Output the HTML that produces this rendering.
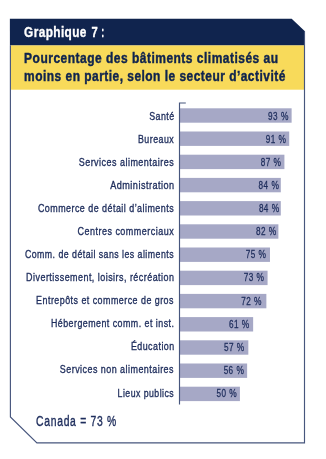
<!DOCTYPE html>
<html><head><meta charset="utf-8"><style>
html,body{margin:0;padding:0;background:#fff;width:326px;height:459px;overflow:hidden}
svg{display:block;font-family:"Liberation Sans",sans-serif;will-change:transform}
</style></head><body>
<svg width="326" height="459" viewBox="0 0 326 459">
<polygon points="9.9,18.7 291.7,18.7 304.9,31.3 304.9,45.4 9.9,45.4" fill="#10244e"/>
<rect x="11.0" y="45.4" width="293.0" height="44.300000000000004" fill="#f8da5a"/>
<polyline points="10.4,45.4 10.4,417.0 36.9,442.8 304.5,442.8 304.5,31.3" fill="none" stroke="#47567d" stroke-width="1.15" stroke-linejoin="miter"/>
<rect x="180" y="108.30" width="111.62" height="14.4" fill="#a6a8c6"/>
<rect x="180" y="131.50" width="109.22" height="14.4" fill="#a6a8c6"/>
<rect x="180" y="154.70" width="104.41" height="14.4" fill="#a6a8c6"/>
<rect x="180" y="177.90" width="100.80" height="14.4" fill="#a6a8c6"/>
<rect x="180" y="201.10" width="100.80" height="14.4" fill="#a6a8c6"/>
<rect x="180" y="224.30" width="98.39" height="14.4" fill="#a6a8c6"/>
<rect x="180" y="247.50" width="89.98" height="14.4" fill="#a6a8c6"/>
<rect x="180" y="270.70" width="87.57" height="14.4" fill="#a6a8c6"/>
<rect x="180" y="293.90" width="86.37" height="14.4" fill="#a6a8c6"/>
<rect x="180" y="317.10" width="73.14" height="14.4" fill="#a6a8c6"/>
<rect x="180" y="340.30" width="68.33" height="14.4" fill="#a6a8c6"/>
<rect x="180" y="363.50" width="67.13" height="14.4" fill="#a6a8c6"/>
<rect x="180" y="386.70" width="59.91" height="14.4" fill="#a6a8c6"/>
<polyline points="185.8,103.0 179.5,103.0 179.5,404.5" fill="none" stroke="#47567d" stroke-width="1.15"/>
<text transform="translate(24.10,36.90) scale(0.7703,1)" font-weight="bold" font-size="15.4" fill="#fff" letter-spacing="0.5" stroke="#fff" stroke-width="0.35">Graphique</text>
<text transform="translate(91.40,36.90) scale(0.7250,1)" font-weight="bold" font-size="15.4" fill="#fff" stroke="#fff" stroke-width="0.35">7</text>
<text transform="translate(101.23,36.90) scale(0.5667,1)" font-weight="bold" font-size="15.4" fill="#fff" stroke="#fff" stroke-width="0.35">:</text>
<text transform="translate(24.10,62.70) scale(0.8114,1)" font-weight="bold" font-size="14.8" fill="#10244e" letter-spacing="0.6" stroke="#10244e" stroke-width="0.45">Pourcentage des bâtiments climatisés au</text>
<text transform="translate(24.10,80.50) scale(0.8083,1)" font-weight="bold" font-size="14.8" fill="#10244e" letter-spacing="0.6" stroke="#10244e" stroke-width="0.45">moins en partie, selon le secteur d’activité</text>
<text transform="translate(36.10,425.90) scale(0.7001,1)" font-weight="normal" font-size="14.8" fill="#1e2d5c" letter-spacing="1.0" stroke="#1e2d5c" stroke-width="0.4">Canada = 73 %</text>
<text transform="translate(149.20,119.80) scale(0.7838,1)" font-weight="normal" font-size="11.3" fill="#1e2d5c" letter-spacing="0.6" stroke="#1e2d5c" stroke-width="0.35">Santé</text>
<text transform="translate(280.90,119.60) scale(0.7400,1)" font-weight="normal" font-size="11.3" fill="#1e2d5c" stroke="#1e2d5c" stroke-width="0.3">%</text>
<text transform="translate(268.10,119.60) scale(0.7240,1)" font-weight="normal" font-size="11.3" fill="#1e2d5c" letter-spacing="0.5" stroke="#1e2d5c" stroke-width="0.3">93</text>
<text transform="translate(138.00,142.86) scale(0.7821,1)" font-weight="normal" font-size="11.3" fill="#1e2d5c" letter-spacing="0.6" stroke="#1e2d5c" stroke-width="0.35">Bureaux</text>
<text transform="translate(278.60,142.72) scale(0.7400,1)" font-weight="normal" font-size="11.3" fill="#1e2d5c" stroke="#1e2d5c" stroke-width="0.3">%</text>
<text transform="translate(265.80,142.72) scale(0.7240,1)" font-weight="normal" font-size="11.3" fill="#1e2d5c" letter-spacing="0.5" stroke="#1e2d5c" stroke-width="0.3">91</text>
<text transform="translate(78.70,165.92) scale(0.7961,1)" font-weight="normal" font-size="11.3" fill="#1e2d5c" letter-spacing="0.6" stroke="#1e2d5c" stroke-width="0.35">Services alimentaires</text>
<text transform="translate(273.60,165.84) scale(0.7400,1)" font-weight="normal" font-size="11.3" fill="#1e2d5c" stroke="#1e2d5c" stroke-width="0.3">%</text>
<text transform="translate(260.80,165.84) scale(0.7240,1)" font-weight="normal" font-size="11.3" fill="#1e2d5c" letter-spacing="0.5" stroke="#1e2d5c" stroke-width="0.3">87</text>
<text transform="translate(110.20,188.98) scale(0.8066,1)" font-weight="normal" font-size="11.3" fill="#1e2d5c" letter-spacing="0.6" stroke="#1e2d5c" stroke-width="0.35">Administration</text>
<text transform="translate(271.40,188.96) scale(0.7400,1)" font-weight="normal" font-size="11.3" fill="#1e2d5c" stroke="#1e2d5c" stroke-width="0.3">%</text>
<text transform="translate(258.60,188.96) scale(0.7240,1)" font-weight="normal" font-size="11.3" fill="#1e2d5c" letter-spacing="0.5" stroke="#1e2d5c" stroke-width="0.3">84</text>
<text transform="translate(37.90,212.04) scale(0.7902,1)" font-weight="normal" font-size="11.3" fill="#1e2d5c" letter-spacing="0.6" stroke="#1e2d5c" stroke-width="0.35">Commerce de détail d’aliments</text>
<text transform="translate(271.70,212.08) scale(0.7400,1)" font-weight="normal" font-size="11.3" fill="#1e2d5c" stroke="#1e2d5c" stroke-width="0.3">%</text>
<text transform="translate(258.90,212.08) scale(0.7240,1)" font-weight="normal" font-size="11.3" fill="#1e2d5c" letter-spacing="0.5" stroke="#1e2d5c" stroke-width="0.3">84</text>
<text transform="translate(77.60,235.10) scale(0.7966,1)" font-weight="normal" font-size="11.3" fill="#1e2d5c" letter-spacing="0.6" stroke="#1e2d5c" stroke-width="0.35">Centres commerciaux</text>
<text transform="translate(268.80,235.20) scale(0.7400,1)" font-weight="normal" font-size="11.3" fill="#1e2d5c" stroke="#1e2d5c" stroke-width="0.3">%</text>
<text transform="translate(256.00,235.20) scale(0.7240,1)" font-weight="normal" font-size="11.3" fill="#1e2d5c" letter-spacing="0.5" stroke="#1e2d5c" stroke-width="0.3">82</text>
<text transform="translate(24.90,258.16) scale(0.7782,1)" font-weight="normal" font-size="11.3" fill="#1e2d5c" letter-spacing="0.6" stroke="#1e2d5c" stroke-width="0.35">Comm. de détail sans les aliments</text>
<text transform="translate(258.60,258.32) scale(0.7400,1)" font-weight="normal" font-size="11.3" fill="#1e2d5c" stroke="#1e2d5c" stroke-width="0.3">%</text>
<text transform="translate(245.80,258.32) scale(0.7240,1)" font-weight="normal" font-size="11.3" fill="#1e2d5c" letter-spacing="0.5" stroke="#1e2d5c" stroke-width="0.3">75</text>
<text transform="translate(26.10,281.22) scale(0.7931,1)" font-weight="normal" font-size="11.3" fill="#1e2d5c" letter-spacing="0.6" stroke="#1e2d5c" stroke-width="0.35">Divertissement, loisirs, récréation</text>
<text transform="translate(256.60,281.44) scale(0.7400,1)" font-weight="normal" font-size="11.3" fill="#1e2d5c" stroke="#1e2d5c" stroke-width="0.3">%</text>
<text transform="translate(243.80,281.44) scale(0.7240,1)" font-weight="normal" font-size="11.3" fill="#1e2d5c" letter-spacing="0.5" stroke="#1e2d5c" stroke-width="0.3">73</text>
<text transform="translate(36.10,304.28) scale(0.7891,1)" font-weight="normal" font-size="11.3" fill="#1e2d5c" letter-spacing="0.6" stroke="#1e2d5c" stroke-width="0.35">Entrepôts et commerce de gros</text>
<text transform="translate(254.10,304.56) scale(0.7400,1)" font-weight="normal" font-size="11.3" fill="#1e2d5c" stroke="#1e2d5c" stroke-width="0.3">%</text>
<text transform="translate(241.30,304.56) scale(0.7240,1)" font-weight="normal" font-size="11.3" fill="#1e2d5c" letter-spacing="0.5" stroke="#1e2d5c" stroke-width="0.3">72</text>
<text transform="translate(50.90,327.34) scale(0.7853,1)" font-weight="normal" font-size="11.3" fill="#1e2d5c" letter-spacing="0.6" stroke="#1e2d5c" stroke-width="0.35">Hébergement comm. et inst.</text>
<text transform="translate(241.80,327.68) scale(0.7400,1)" font-weight="normal" font-size="11.3" fill="#1e2d5c" stroke="#1e2d5c" stroke-width="0.3">%</text>
<text transform="translate(229.00,327.68) scale(0.7240,1)" font-weight="normal" font-size="11.3" fill="#1e2d5c" letter-spacing="0.5" stroke="#1e2d5c" stroke-width="0.3">61</text>
<text transform="translate(130.90,350.40) scale(0.7870,1)" font-weight="normal" font-size="11.3" fill="#1e2d5c" letter-spacing="0.6" stroke="#1e2d5c" stroke-width="0.35">Éducation</text>
<text transform="translate(236.80,350.80) scale(0.7400,1)" font-weight="normal" font-size="11.3" fill="#1e2d5c" stroke="#1e2d5c" stroke-width="0.3">%</text>
<text transform="translate(224.00,350.80) scale(0.7240,1)" font-weight="normal" font-size="11.3" fill="#1e2d5c" letter-spacing="0.5" stroke="#1e2d5c" stroke-width="0.3">57</text>
<text transform="translate(59.80,373.46) scale(0.7925,1)" font-weight="normal" font-size="11.3" fill="#1e2d5c" letter-spacing="0.6" stroke="#1e2d5c" stroke-width="0.35">Services non alimentaires</text>
<text transform="translate(236.50,373.92) scale(0.7400,1)" font-weight="normal" font-size="11.3" fill="#1e2d5c" stroke="#1e2d5c" stroke-width="0.3">%</text>
<text transform="translate(223.70,373.92) scale(0.7240,1)" font-weight="normal" font-size="11.3" fill="#1e2d5c" letter-spacing="0.5" stroke="#1e2d5c" stroke-width="0.3">56</text>
<text transform="translate(117.60,396.52) scale(0.7741,1)" font-weight="normal" font-size="11.3" fill="#1e2d5c" letter-spacing="0.6" stroke="#1e2d5c" stroke-width="0.35">Lieux publics</text>
<text transform="translate(229.30,397.04) scale(0.7400,1)" font-weight="normal" font-size="11.3" fill="#1e2d5c" stroke="#1e2d5c" stroke-width="0.3">%</text>
<text transform="translate(216.50,397.04) scale(0.7240,1)" font-weight="normal" font-size="11.3" fill="#1e2d5c" letter-spacing="0.5" stroke="#1e2d5c" stroke-width="0.3">50</text>
</svg>
</body></html>
